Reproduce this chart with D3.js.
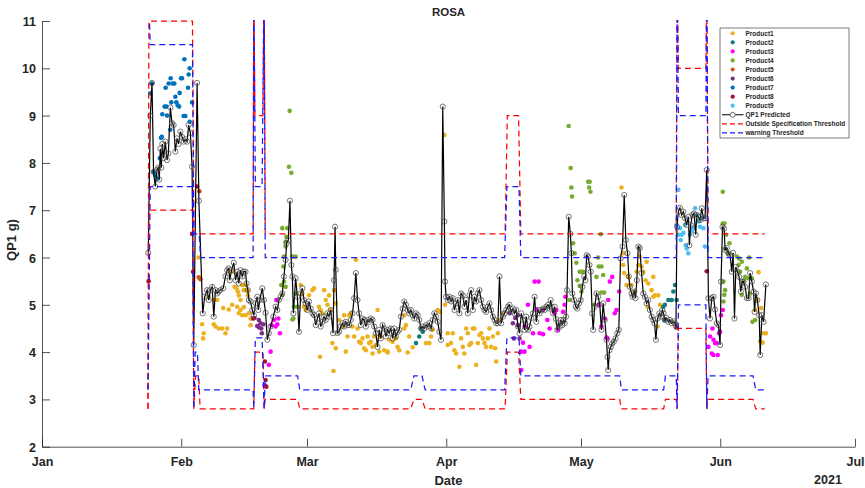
<!DOCTYPE html>
<html>
<head>
<meta charset="utf-8">
<script src="https://cdn.jsdelivr.net/npm/d3@7"></script>
<style>
  body { margin: 0; background: #fff; }
  text { font-family: "Liberation Sans", Arial, Helvetica, sans-serif; font-weight: bold; fill: #262626; }
</style>
</head>
<body>
<svg id="chart" width="865" height="488"></svg>
<script>
// Samples are [day offset from 1 Jan 2021, value in g]
const qp1Predicted = [
  [23.66,6.1],[24.11,9.0],[24.49,9.69],[24.84,7.81],[25.22,7.5],[25.60,7.85],[25.89,7.9],[26.12,7.65],
  [26.34,8.3],[26.56,7.9],[26.79,8.4],[27.08,8.1],[27.46,8.45],[27.83,8.06],[28.13,8.2],[28.57,9.17],
  [28.95,8.84],[29.31,8.8],[29.69,8.24],[30.07,8.52],[30.42,8.4],[30.80,8.66],[31.18,8.55],[31.54,8.45],
  [31.92,8.5],[32.30,8.45],[32.66,8.8],[33.04,8.63],[33.41,7.92],[33.78,4.15],[34.53,9.69],[34.93,7.2],
  [35.78,4.82],[36.23,5.17],[36.76,5.31],[37.12,5.1],[37.50,5.31],[37.88,5.38],[38.24,4.75],[38.62,5.31],
  [39.00,5.24],[39.35,5.28],[39.73,5.31],[40.34,5.35],[40.85,5.6],[41.23,5.73],[41.58,5.77],[41.81,5.52],
  [42.19,5.73],[42.70,5.89],[43.08,5.52],[43.46,5.7],[43.82,5.45],[44.20,5.73],[44.58,5.6],[44.93,5.7],
  [45.31,5.7],[45.54,5.45],[45.83,5.31],[46.05,5.1],[46.43,5.07],[46.81,4.89],[47.17,4.78],[47.54,5.03],
  [47.92,5.17],[48.15,4.89],[48.50,5.1],[49.04,5.35],[49.40,5.1],[49.78,4.83],[50.16,4.26],[50.51,4.4],
  [50.89,4.54],[51.50,4.75],[52.01,4.96],[52.39,4.89],[52.75,5.1],[53.13,5.17],[53.50,5.24],[53.86,5.6],
  [54.24,5.95],[54.46,6.3],[54.84,6.37],[55.20,7.2],[55.51,5.84],[55.74,5.6],[55.96,4.82],[56.47,5.56],
  [56.85,5.17],[57.21,4.43],[57.59,5.24],[57.97,5.35],[58.33,5.1],[58.71,5.03],[59.08,4.89],[59.44,5.07],
  [59.82,4.92],[60.20,4.82],[60.56,4.78],[60.94,4.57],[61.32,4.71],[61.67,4.82],[62.05,4.54],[62.43,4.64],
  [62.79,4.75],[63.17,4.68],[63.55,4.82],[63.90,4.75],[64.29,4.89],[64.80,4.4],[65.02,5.52],[65.25,6.65],
  [65.40,5.74],[65.78,4.4],[66.14,4.43],[66.52,4.54],[66.90,4.61],[67.25,4.54],[67.63,4.64],[68.01,4.57],
  [68.37,4.57],[68.75,4.68],[69.13,4.82],[69.49,5.14],[69.87,5.67],[70.25,5.1],[70.60,4.82],[70.98,4.57],
  [71.36,4.71],[71.72,4.68],[72.10,4.54],[72.48,4.68],[72.83,4.64],[73.21,4.71],[73.59,4.68],[73.95,4.54],
  [74.33,4.4],[74.71,4.11],[75.07,4.47],[75.45,4.29],[75.83,4.57],[76.18,4.5],[76.56,4.33],[76.94,4.47],
  [77.30,4.4],[77.68,4.5],[78.06,4.29],[78.42,4.5],[78.79,4.33],[79.17,4.43],[79.53,4.47],[79.91,4.75],
  [80.29,4.92],[80.65,5.07],[81.03,5.0],[81.41,4.89],[81.76,4.82],[82.14,4.89],[82.52,4.78],[82.88,4.71],
  [83.26,4.82],[83.64,4.78],[83.99,4.68],[84.38,4.5],[84.75,4.54],[85.11,4.5],[85.49,4.57],[85.87,4.54],
  [86.23,4.61],[86.61,4.5],[86.99,4.68],[87.34,4.82],[87.72,4.75],[88.10,4.64],[88.46,4.43],[88.84,4.26],
  [89.22,9.19],[89.58,6.76],[89.73,5.49],[89.96,5.17],[90.33,5.1],[90.69,5.17],[91.07,5.07],[91.45,5.14],
  [91.81,4.89],[92.19,5.03],[92.57,5.1],[92.93,4.82],[93.30,5.24],[93.68,5.2],[94.04,4.96],[94.42,5.1],
  [94.80,4.82],[95.16,5.2],[95.54,5.31],[95.91,4.89],[96.27,5.17],[96.65,5.07],[97.03,5.24],[97.39,5.31],
  [97.77,5.1],[98.15,4.96],[98.50,4.89],[98.88,4.85],[99.26,4.96],[99.62,5.03],[100.00,4.89],[100.38,4.75],
  [100.74,4.68],[101.12,4.61],[101.50,4.61],[101.85,5.6],[102.23,4.61],[102.61,4.75],[102.97,4.82],[103.35,4.89],
  [103.73,4.96],[104.08,5.0],[104.46,4.85],[104.84,4.92],[105.20,4.82],[105.58,4.89],[105.96,4.54],[106.32,4.4],
  [106.70,4.82],[107.08,4.68],[107.43,4.47],[107.81,4.75],[108.19,4.47],[108.55,4.54],[108.93,4.72],[109.31,4.82],
  [109.67,5.17],[110.04,4.64],[110.42,4.89],[110.78,4.82],[111.16,4.89],[111.54,4.92],[111.90,4.89],[112.28,4.96],
  [112.66,5.0],[113.01,4.92],[113.24,5.1],[113.50,4.96],[113.77,4.82],[114.13,4.96],[114.40,4.7],[114.73,4.47],
  [114.96,4.61],[115.25,4.54],[115.51,4.68],[115.85,4.57],[116.07,4.68],[116.36,4.61],[116.67,4.75],[116.90,5.31],
  [117.26,6.86],[117.63,6.5],[117.86,6.09],[118.08,5.24],[118.46,5.1],[118.82,4.96],[119.20,4.92],[119.58,5.03],
  [119.93,5.1],[120.31,5.38],[120.69,5.6],[120.98,5.52],[121.27,6.05],[121.58,6.02],[121.88,5.84],[122.17,5.7],
  [122.48,4.82],[122.70,4.47],[123.06,4.96],[123.44,5.24],[123.82,5.17],[124.18,5.0],[124.55,4.47],[124.93,5.03],
  [125.29,4.68],[125.67,4.26],[125.89,3.9],[126.05,3.62],[126.34,4.04],[126.63,4.11],[126.94,4.18],[127.30,4.22],
  [127.68,4.29],[128.06,4.4],[128.42,4.47],[128.79,5.98],[129.24,6.23],[129.62,7.32],[129.98,6.37],[130.36,6.09],
  [130.65,5.6],[130.87,5.38],[131.25,5.24],[131.47,5.17],[131.85,5.28],[132.14,5.14],[132.43,5.52],[132.75,6.23],
  [133.10,6.2],[133.48,5.67],[133.86,5.24],[134.22,5.17],[134.60,5.03],[134.97,5.1],[135.33,4.89],[135.71,4.75],
  [136.09,4.68],[136.38,4.61],[136.67,4.26],[137.05,4.71],[137.43,4.82],[137.79,4.75],[138.10,4.89],[138.39,4.82],
  [138.68,4.68],[139.06,4.72],[139.44,4.64],[139.80,4.68],[140.18,4.61],[140.56,4.65],[140.92,4.61],[141.14,4.54],
  [141.36,6.65],[141.67,6.97],[142.03,7.05],[142.41,6.9],[142.79,6.97],[143.15,6.83],[143.53,6.69],[143.90,6.86],
  [144.13,6.26],[144.42,6.69],[144.80,6.9],[145.16,6.93],[145.54,6.48],[145.76,6.9],[146.14,6.86],[146.50,6.79],
  [146.88,7.04],[147.25,6.83],[147.61,6.83],[147.99,7.85],[148.37,5.14],[148.73,4.71],[149.11,5.14],[149.49,5.17],
  [149.84,4.9],[150.22,4.61],[150.60,4.57],[150.96,4.15],[151.18,5.49],[151.50,6.65],[151.85,6.61],[152.08,6.16],
  [152.46,6.2],[152.83,6.09],[153.19,6.05],[153.57,5.7],[153.86,6.1],[154.17,4.71],[154.46,5.8],[154.84,5.7],
  [155.20,5.59],[155.58,5.28],[155.87,5.49],[156.18,5.49],[156.54,5.38],[156.92,5.14],[157.30,5.14],[157.65,5.67],
  [158.04,5.49],[158.42,5.28],[158.64,4.85],[158.93,5.24],[159.26,5.1],[159.67,4.78],[159.89,3.94],[160.27,4.78],
  [160.65,4.64],[161.16,5.43]
];

const product1 = [
  [34.89,6.0],[35.65,4.59],[36.0,4.4],[35.87,4.29],[37.12,5.17],[38.24,5.1],[39.0,5.1],[38.24,4.59],
  [38.62,4.54],[39.35,4.5],[40.11,4.5],[41.23,4.5],[40.85,4.4],[40.34,4.93],[41.58,4.9],[42.34,5.0],
  [42.57,5.7],[42.86,5.38],[43.3,5.35],[43.59,5.28],[43.82,5.2],[44.2,5.1],[44.58,5.42],[44.93,5.31],
  [45.31,5.42],[45.69,5.31],[45.83,5.2],[43.46,4.96],[44.2,4.89],[43.82,4.82],[44.58,4.78],[45.31,4.78],
  [46.05,4.82],[46.43,4.71],[46.43,4.57],[46.81,4.71],[44.93,4.95],
  [57.59,5.42],[57.97,5.24],[58.33,4.96],[58.71,4.89],[59.44,5.2],[60.2,5.31],[60.56,5.35],[61.67,4.96],
  [62.05,4.89],[62.43,4.82],[62.79,5.31],[63.17,5.1],[63.55,5.0],[63.9,5.2],[64.29,4.89],[64.66,4.19],
  [65.02,5.31],[65.4,5.03],[66.14,4.68],[66.9,4.54],[67.25,4.78],[67.63,4.01],[68.01,4.33],[68.37,4.78],
  [68.75,4.82],[69.13,4.54],[69.49,4.33],[69.87,5.95],[70.25,4.5],[70.6,4.22],[70.98,4.19],[71.36,4.29],
  [71.72,4.08],[72.1,4.04],[72.48,4.33],[72.83,4.19],[73.21,4.22],[73.59,4.11],[73.95,4.33],[74.33,4.15],
  [74.71,4.89],[75.07,4.01],[75.45,4.33],[76.18,4.04],[76.94,4.01],[77.3,4.26],[78.06,4.22],[78.79,4.29],
  [79.17,4.11],[79.53,4.04],[80.65,4.5],[81.03,4.57],[81.76,4.33],[80.65,4.78],[85.49,4.19],[86.23,4.19],
  [86.61,4.33],[86.99,4.47],[88.1,4.89],[88.46,4.85],[89.58,8.59],[61.9,3.9],[64.89,3.6],[65.4,4.08],
  [81.41,3.99],[82.52,4.1],[73.59,3.97],[76.94,3.99],
  [89.73,5.0],[90.33,4.4],[90.33,4.15],[91.07,4.19],[91.45,4.4],[91.81,4.04],[92.19,3.97],[92.93,3.69],
  [93.3,4.29],[93.68,4.11],[94.04,3.97],[94.42,4.5],[94.8,4.4],[95.16,4.15],[95.54,4.19],[95.91,4.5],
  [96.27,4.5],[96.65,3.73],[97.03,4.19],[97.39,4.36],[97.77,4.4],[98.15,4.29],[98.5,4.19],[98.88,4.11],
  [99.26,4.29],[99.62,4.5],[100.0,4.11],[100.38,4.33],[100.89,4.08],[101.12,3.8],[101.5,4.4],[101.85,4.68],
  [102.61,4.82],
  [129.02,7.48],[129.4,6.09],[129.4,5.84],[129.62,5.67],[130.51,5.59],[130.13,5.42],[131.25,5.42],[131.99,5.28],
  [133.1,6.02],[132.75,5.84],[132.37,5.7],[133.48,5.81],[133.86,5.7],[134.6,5.91],[134.38,5.52],[134.97,5.45],
  [135.71,5.31],[136.09,5.59],[136.09,5.17],[136.45,5.2],[137.21,5.2],[137.57,5.0],[134.82,4.96],[137.05,4.54],
  [159.53,5.69],[159.15,5.1],[158.77,4.89],[160.11,4.93],[160.65,4.4],[159.89,4.23],[161.16,4.4],[160.43,4.2]
];
const product2 = [
  [83.26,4.19],[83.99,4.33],[84.38,4.5],[84.75,4.43],
  [138.32,4.96],[138.68,5.0],[139.44,5.1],[140.18,5.1],[140.56,5.28],[140.92,5.42],[141.29,5.1],[138.55,4.68]
];
const product3 = [
  [49.55,3.3],[50.51,3.73],[50.89,4.01],[51.63,4.68],[52.01,4.54],[52.39,4.59],[52.61,4.71],[52.97,4.4],
  [52.17,5.1],[51.12,4.57],
  [106.7,3.62],[107.08,4.2],[106.7,4.01],[107.43,4.01],[107.43,4.54],[108.19,5.0],[108.55,4.11],[109.31,4.4],
  [109.67,5.49],[110.56,5.49],[110.78,4.4],[110.04,4.9],[111.54,4.89],[111.54,4.38],[113.01,4.5],[114.13,4.82],
  [114.51,4.89],[114.89,4.47],[116.0,4.85],[116.36,5.0],[116.52,5.17],[112.5,4.68],
  [124.55,4.54],[125.29,4.71],[125.67,4.31],[126.05,5.1],[126.41,5.49],[126.94,5.59],[127.52,4.82],[127.9,4.89],
  [128.5,5.28],[125.89,4.29],[123.88,5.0],
  [148.37,4.11],[148.73,4.33],[149.26,4.5],[149.49,4.26],[149.11,3.97],[149.84,4.19],[150.22,4.19],[150.45,3.94],
  [149.49,3.94],[150.74,4.4],[150.96,4.43],[151.18,4.78],[151.56,4.89]
];
const product4 = [
  [55.13,9.1],[54.98,7.92],[55.51,7.79],[54.62,6.62],[54.4,6.44],[54.24,6.23],[53.86,6.02],[53.73,5.81],
  [53.86,5.49],[53.28,5.42],[53.5,5.21],[54.24,5.38],[56.09,4.96],[55.96,4.71],[56.47,5.24],[55.74,6.02],
  [56.47,6.02],[55.74,4.69],[56.85,4.96],[53.5,6.62],[54.24,6.33],
  [117.26,8.78],[117.7,7.89],[117.86,7.48],[118.01,7.29],[121.58,7.6],[121.94,7.6],[121.81,7.48],[122.1,7.39],
  [124.4,6.49],[118.24,6.3],[118.59,6.09],[118.97,5.89],[119.71,5.7],[120.09,5.7],[120.47,5.7],[119.2,5.52],
  [119.71,5.4],[120.09,5.28],[117.48,5.1],[123.82,6.0],[123.95,5.81],[124.55,5.81],[124.93,5.63],[123.44,5.59],
  [122.92,5.0],[125.15,5.26],[124.55,5.26],
  [151.56,7.39],[152.3,6.48],[151.56,6.72],[151.94,6.72],[153.06,6.3],[152.68,6.09],[152.08,6.19],[152.08,5.31],
  [151.72,5.49],[154.69,6.02],[155.2,5.98],[155.07,5.84],[155.8,5.91],[155.43,5.7],[156.92,5.77],[157.43,6.0],
  [156.54,5.59],[157.14,5.56],[156.18,5.49],[158.04,5.56],[155.8,5.21],[157.65,5.24],[158.19,4.64],[158.77,4.68],
  [151.9,5.21],[151.72,5.07]
];
const product5 = [[34.89,5.58],[35.27,5.54],[35.05,7.4]];
const product6 = [
  [47.92,4.55],[48.66,4.61],[48.37,4.52],[48.28,4.68],[48.82,4.5],[49.26,4.59],[48.95,4.4],[47.32,4.72],
  [104.08,4.82],[104.84,4.61],[105.96,4.78],[105.96,4.57],[105.07,4.29],[106.32,4.29],[105.36,4.72]
];
const product7 = [
  [24.11,9.47],[24.49,9.68],[24.84,7.81],[25.22,7.74],[25.74,7.67],[26.5,8.53],[26.79,9.03],[27.3,9.19],
  [27.68,9.19],[27.52,9.59],[27.83,9.0],[28.19,9.68],[28.64,9.79],[28.79,9.28],[29.08,9.68],[29.46,9.68],
  [29.69,9.4],[29.91,9.28],[30.2,9.22],[30.51,9.19],[30.65,9.48],[30.96,9.79],[31.18,9.79],[31.54,8.99],
  [31.92,8.99],[31.7,10.19],[32.66,9.87],[32.88,10.0],[32.52,9.59],[32.88,8.87],[33.41,9.28],[28.57,8.7],
  [26.23,8.1],[26.67,8.55]
];
const product8 = [
  [23.73,5.5],[33.41,6.5],[33.64,5.7],[34.53,7.5],[47.03,4.71],[49.62,3.8],[49.78,3.41],[49.93,3.27],
  [141.29,4.52],[147.99,5.71]
];
const product9 = [
  [141.67,7.43],[141.29,6.69],[141.67,6.48],[142.03,6.62],[142.41,6.48],[142.79,6.52],[143.15,6.69],[143.3,6.26],
  [143.53,6.19],[143.9,6.09],[144.26,6.48],[144.64,6.55],[145.02,6.62],[145.38,7.04],[145.76,6.9],[146.14,6.76],
  [146.5,6.65],[146.88,6.83],[147.25,6.62],[147.61,6.23],[142.2,6.37]
];

// Specification limits (red) and warning limits (blue), upper and lower
const specUpper = [
  [23.6,2.8],[23.8,11],[33.5,11],[33.8,6.5],[47.0,6.5],[47.15,12],[47.4,9.0],[49.2,9.0],[49.45,12],[49.7,6.5],
  [103.1,6.5],[103.6,9.0],[106.1,9.0],[106.6,6.5],[141.2,6.5],[141.4,12],[141.7,10.0],[147.8,10.0],[148.0,12],
  [148.3,6.5],[160.9,6.5]
];
const specLower = [
  [23.6,2.8],[23.8,7.0],[33.5,7.0],[33.8,2.8],[34.2,3.5],[34.9,3.5],[35.2,2.8],[47.0,2.8],[47.15,2.8],[47.4,4.0],
  [49.2,4.0],[49.45,2.8],[49.7,3.0],[56.9,3.0],[57.4,2.8],[82.1,2.8],[82.8,3.0],[84.6,3.0],[85.3,2.8],[103.1,2.8],
  [103.6,4.0],[106.1,4.0],[106.6,3.0],[128.6,3.0],[129.0,2.8],[138.4,2.8],[138.8,3.0],[141.2,3.0],[141.4,2.8],
  [141.7,4.5],[147.8,4.5],[148.0,2.8],[148.3,3.0],[158.3,3.0],[158.9,2.8],[160.9,2.8]
];
const warnUpper = [
  [23.6,12],[24.1,10.5],[33.5,10.5],[33.8,6.5],[35.0,6.5],[35.3,6.0],[47.0,6.0],[47.15,12],[47.5,7.5],[49.0,7.5],
  [49.45,12],[49.7,6.0],[103.0,6.0],[103.5,7.5],[106.2,7.5],[106.6,6.0],[141.2,6.0],[141.4,12],[141.7,9.0],
  [147.8,9.0],[148.0,12],[148.3,6.0],[160.9,6.0]
];
const warnLower = [
  [23.6,3.2],[24.1,7.5],[33.5,7.5],[33.8,2.8],[34.1,4.0],[34.6,4.0],[34.9,3.2],[47.0,3.2],[47.15,2.8],[47.5,4.3],
  [49.0,4.3],[49.45,2.8],[49.7,3.5],[56.9,3.5],[57.4,3.2],[82.1,3.2],[82.8,3.5],[84.6,3.5],[85.3,3.2],[103.0,3.2],
  [103.5,4.3],[106.2,4.3],[106.6,3.5],[128.6,3.5],[129.0,3.2],[138.4,3.2],[138.8,3.5],[141.2,3.5],[141.4,2.8],
  [141.7,5.0],[147.8,5.0],[148.0,2.8],[148.3,3.5],[158.3,3.5],[158.9,3.2],[160.9,3.2]
];

const productNames = ["Product1","Product2","Product3","Product4","Product5","Product6","Product7","Product8","Product9"];
const productColors = ["#EDB120","#137B7B","#FF00FF","#77AC30","#D95319","#7E2F8E","#0072BD","#A2142F","#4DBEEE"];
const products = [product1,product2,product3,product4,product5,product6,product7,product8,product9];
const yTicks = [2,3,4,5,6,7,8,9,10,11];
const legendLabels = [...productNames, "QP1 Predicted", "Outside Specification Threshold", "warning Threshold"];

const t0 = new Date(2021, 0, 1);
const t1 = new Date(2021, 6, 1);
const toDate = d => new Date(t0.getTime() + d * 864e5);

const svg = d3.select("#chart");
const plot = { left: 42, right: 855, top: 21, bottom: 446.7 };

const x = d3.scaleTime().domain([t0, t1]).range([plot.left, plot.right]);
const y = d3.scaleLinear().domain([2, 11]).range([plot.bottom, plot.top]);

svg.append("defs").append("clipPath").attr("id", "plotClip")
  .append("rect").attr("x", plot.left).attr("y", plot.top - 1)
  .attr("width", plot.right - plot.left).attr("height", plot.bottom - plot.top + 1);

// Axes (ticks point inward)
const yAxis = d3.axisLeft(y).tickValues(yTicks).tickFormat(d3.format("d"))
  .tickSizeInner(-8).tickSizeOuter(0).tickPadding(6);
const xAxis = d3.axisBottom(x).ticks(d3.timeMonth.every(1)).tickFormat(d3.timeFormat("%b"))
  .tickSizeInner(-8).tickSizeOuter(0).tickPadding(10);

const gy = svg.append("g").attr("transform", `translate(${plot.left},0)`).call(yAxis);
const gx = svg.append("g").attr("transform", `translate(0,${plot.bottom})`).call(xAxis);
[gy, gx].forEach(g => {
  g.select(".domain").attr("stroke", "#262626").attr("stroke-width", 0.8);
  g.selectAll(".tick line").attr("stroke", "#262626").attr("stroke-width", 0.8);
  g.selectAll(".tick text").attr("font-size", 12.5).attr("fill", "#262626")
    .attr("font-family", "'Liberation Sans', Arial, sans-serif").attr("font-weight", "bold");
});
gy.selectAll(".tick text").attr("dy", "0.36em");

const body = svg.append("g").attr("clip-path", "url(#plotClip)");

// Product measurements
products.forEach((pts, i) => {
  body.append("g").selectAll("circle").data(pts).join("circle")
    .attr("cx", d => x(toDate(d[0]))).attr("cy", d => y(d[1]))
    .attr("r", 2.3).attr("fill", productColors[i]);
});

// Predicted QP1 line with open markers
const line = d3.line().x(d => x(toDate(d[0]))).y(d => y(d[1]));
body.append("path").datum(qp1Predicted).attr("d", line)
  .attr("fill", "none").attr("stroke", "#000").attr("stroke-width", 1.2);
body.append("g").selectAll("circle").data(qp1Predicted).join("circle")
  .attr("cx", d => x(toDate(d[0]))).attr("cy", d => y(d[1]))
  .attr("r", 2.6).attr("fill", "none").attr("stroke", "#4a4a4a").attr("stroke-width", 0.75);

// Threshold lines
[[specUpper, "#FF0000"], [specLower, "#FF0000"], [warnUpper, "#1A1AFF"], [warnLower, "#1A1AFF"]]
  .forEach(([pts, col]) => {
    body.append("path").datum(pts).attr("d", line)
      .attr("fill", "none").attr("stroke", col).attr("stroke-width", 1.25)
      .attr("stroke-dasharray", "6,4");
  });

// Titles
svg.append("text").attr("x", (plot.left + plot.right) / 2).attr("y", 16)
  .attr("text-anchor", "middle").attr("font-size", 11.5).text("ROSA");
svg.append("text").attr("x", (plot.left + plot.right) / 2).attr("y", 485)
  .attr("text-anchor", "middle").attr("font-size", 13).text("Date");
svg.append("text").attr("x", 828).attr("y", 484)
  .attr("text-anchor", "middle").attr("font-size", 12.5).text("2021");
svg.append("text").attr("transform", `translate(16,240) rotate(-90)`)
  .attr("text-anchor", "middle").attr("font-size", 13).text("QP1 g)");

// Legend
const lg = svg.append("g");
const lgX = 720, lgY = 28, lgW = 129, lgH = 110, rowH = 9.05;
lg.append("rect").attr("x", lgX).attr("y", lgY).attr("width", lgW).attr("height", lgH)
  .attr("fill", "#fff").attr("stroke", "#262626").attr("stroke-width", 0.6);
legendLabels.forEach((lab, i) => {
  const cy = lgY + 5.3 + i * rowH;
  const row = lg.append("g");
  if (i < productNames.length) {
    row.append("circle").attr("cx", lgX + 12.7).attr("cy", cy).attr("r", 2.1).attr("fill", productColors[i]);
  } else if (i === productNames.length) {
    row.append("line").attr("x1", lgX + 2).attr("x2", lgX + 23.5).attr("y1", cy).attr("y2", cy)
      .attr("stroke", "#000").attr("stroke-width", 1);
    row.append("circle").attr("cx", lgX + 12.7).attr("cy", cy).attr("r", 2.5)
      .attr("fill", "#fff").attr("stroke", "#3c3c3c").attr("stroke-width", 0.7);
  } else {
    row.append("line").attr("x1", lgX + 2).attr("x2", lgX + 23.5).attr("y1", cy).attr("y2", cy)
      .attr("stroke", i === productNames.length + 1 ? "#FF0000" : "#1A1AFF")
      .attr("stroke-width", 1.2).attr("stroke-dasharray", "5,3");
  }
  row.append("text").attr("x", lgX + 25.5).attr("y", cy + 2.3).attr("font-size", 6.5).text(lab);
});
</script>
</body>
</html>
